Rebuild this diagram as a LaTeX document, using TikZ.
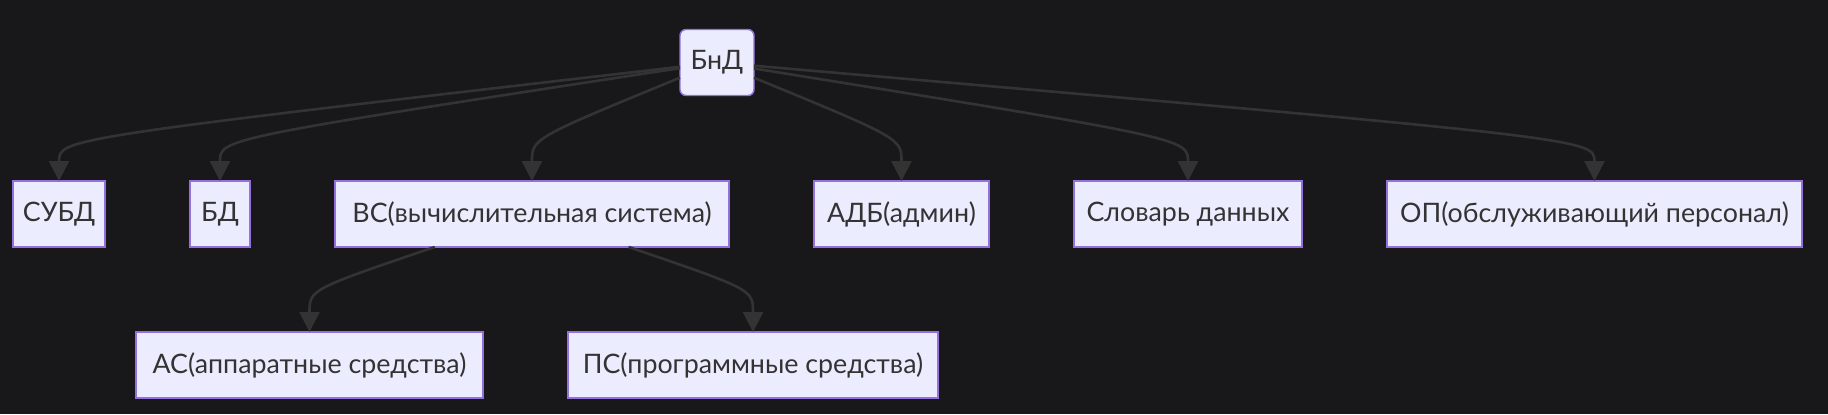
\documentclass[tikz,border=0pt]{standalone}
\usepackage{fontspec}
\setmainfont{Lato}
\usetikzlibrary{positioning,arrows.meta,calc}
\definecolor{bgcol}{HTML}{18181B}
\definecolor{nodefill}{HTML}{ECECFF}
\definecolor{nodeborder}{HTML}{9370DB}
\definecolor{linecol}{HTML}{333333}
\definecolor{textcol}{HTML}{333333}
\tikzset{
    block/.style={
        draw=nodeborder,
        fill=nodefill,
        line width=0.7pt,
        rectangle,
        text=textcol,
        font=\fontsize{13.4}{16}\selectfont,
        minimum height=33pt,
        inner xsep=0pt,
        outer sep=0pt
    },
    rootblock/.style={
        block,
        rounded corners=3pt
    },
    edge/.style={
        draw=linecol,
        line width=1.3pt,
        -{Triangle[length=10pt,width=10pt]}
    },
}
\begin{document}
\begin{tikzpicture}[x=0.5pt, y=-0.5pt, node distance=42.5pt]
    \fill[bgcol] (0,0) rectangle (1828,414);
    \useasboundingbox (0,0) rectangle (1828,414);
    % blocks
    \node[rootblock, minimum width=37pt] (bnd) at (717,62.5) {БнД};
    \node[block, minimum width=46pt] (subd) at (59,214) {СУБД};
    \node[block, minimum width=30pt, right=of subd] (bd) {БД};
    \node[block, minimum width=197pt, right=of bd] (vs) {ВС(вычислительная система)};
    \node[block, minimum width=87.5pt, right=of vs] (adb) {АДБ(админ)};
    \node[block, minimum width=114pt, right=of adb] (slovar) {Словарь данных};
    \node[block, minimum width=207.5pt, right=of slovar] (op) {ОП(обслуживающий персонал)};
    \node[block, minimum width=173.5pt] (as) at (309.5,365) {АС(аппаратные средства)};
    \node[block, minimum width=185pt, right=of as] (ps) {ПС(программные средства)};
    % rank middles
    \coordinate (rankA) at (0,138.5);
    \coordinate (rankB) at (0,289.5);

    % lines
    \draw[edge] (bnd) .. controls (subd.north |- rankA) and (subd.north |- rankA) .. (subd.north);
    \draw[edge] (bnd) .. controls (bd.north |- rankA) and (bd.north |- rankA) .. (bd.north);
    \draw[edge] (bnd) .. controls (vs.north |- rankA) and (vs.north |- rankA) .. (vs.north);
    \draw[edge] (bnd) .. controls (adb.north |- rankA) and (adb.north |- rankA) .. (adb.north);
    \draw[edge] (bnd) .. controls (slovar.north |- rankA) and (slovar.north |- rankA) .. (slovar.north);
    \draw[edge] (bnd) .. controls (op.north |- rankA) and (op.north |- rankA) .. (op.north);
    \draw[edge] (vs) .. controls (as.north |- rankB) and (as.north |- rankB) .. (as.north);
    \draw[edge] (vs) .. controls (ps.north |- rankB) and (ps.north |- rankB) .. (ps.north);
\end{tikzpicture}
\end{document}
